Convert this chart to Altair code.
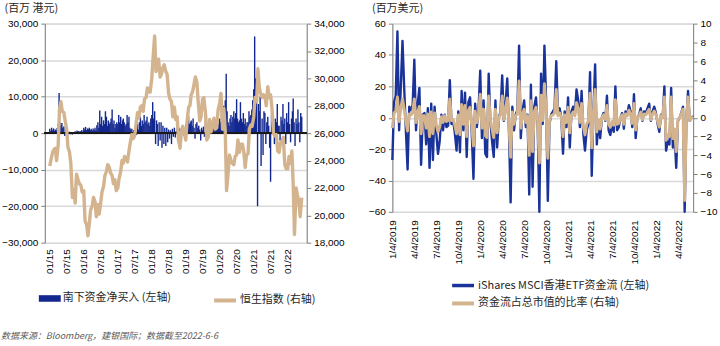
import altair as alt
import pandas as pd

# ---------------- Left panel data (semi-monthly HSI, 3-per-month southbound flows) ----------------
hsi_2015 = [23600, 24100, 24600, 24800, 24900, 24000, 25100, 27700, 28300, 27600, 27500, 26900,
            26300, 25000, 24600, 23800, 21300, 21900, 20900, 23000, 22600, 22300, 22200, 21700]
hsi_2016 = [21800, 19600, 19300, 18500, 19400, 20400, 20700, 21300, 21000, 19900, 20800, 20100,
            20900, 21700, 22100, 22900, 23200, 23700, 23500, 23100, 22900, 22300, 22600, 21800]
hsi_2017 = [22000, 22700, 23200, 24000, 23800, 24300, 24200, 23900, 24700, 25300, 25900, 25600,
            25800, 26600, 27500, 27100, 27900, 28000, 27600, 28500, 28600, 29300, 29000, 29000]
hsi_2018 = [30000, 31500, 33100, 30500, 30800, 31400, 30100, 30300, 30800, 31000, 30500, 30300,
            28900, 28500, 28300, 27200, 27900, 27000, 27200, 25500, 24900, 26100, 26500, 26100]
hsi_2019 = [25500, 26800, 27900, 28000, 28800, 29000, 29600, 30100, 29700, 28300, 26900, 27200,
            28500, 28600, 27500, 25500, 25700, 27000, 26100, 26600, 27100, 26300, 26400, 27700]
hsi_2020 = [28200, 28900, 26300, 27800, 26100, 21800, 23100, 24400, 24000, 23800, 23700, 24300,
            24400, 25500, 24600, 25200, 25200, 24700, 23500, 24400, 24500, 26300, 26600, 26500]
hsi_2021 = [27200, 28600, 28300, 30700, 29400, 28900, 28600, 28800, 28700, 28000, 29400, 28600,
            28800, 27900, 26000, 25800, 25900, 24700, 24600, 25300, 25400, 25700, 23700, 23400]
hsi_2022 = [23400, 24300, 23800, 24700, 22300, 18600, 22000, 21500, 21000, 19900, 21300]

south_2015 = [1200, 500, 1500, 800, 1300, 600, 1000, 700, 1400, 2500, 11000, 3000,
              2000, 2800, 1500, 1800, -800, 1200, 600, -500, 300, 400, -300, 200,
              -400, 300, -200, 500, 300, 700, 600, 400, 500, 500, 900, 400]
south_2016 = [1500, 1000, 1700, 800, 1300, 1100, 1500, 900, 1200, 700, 1300, 900,
              1500, 800, 2200, 3000, 1500, 6200, 2500, 4500, 2000, 3500, 2500, 6000,
              4500, 2000, 3500, 2500, 3000, 4000, 6500, 2500, 3500, 1500, 2500, 3000]
south_2017 = [2500, 5000, 3000, 4500, 2500, 3500, 4000, 3000, 2000, 2500, 5000, 3000,
              4500, 1500, 1000, 1200, -800, 900, 600, 1500, -500, 2500, 1000, 3000,
              4500, 2000, 3500, 2500, 5000, 3000, 3500, 4500, 2500, 3000, 2000, 4000]
south_2018 = [5000, 8500, 4000, 6000, -3000, 3500, 2500, -3500, 3000, -2000, 3000, -4000,
              2000, -3000, 1500, -3500, 1500, -2500, 1000, -1500, 800, -3000, 1200, -1000,
              1500, -1200, 600, 2500, -1800, 1500, 800, 1200, -500, 1000, -700, 1500]
south_2019 = [2500, 3500, 2000, 4700, 2500, 3000, 3500, 2000, 4000, 1500, -1500, 2500,
              3000, 1500, 2000, 1000, -2000, 1500, 800, 1800, -1000, 3500, 5000, 2500,
              2000, 1000, 2500, 1000, 2500, 1500, 3000, 2000, 1500, 1500, 3500, 2500]
south_2020 = [4000, 3000, 6000, 5000, 7500, 4000, 9000, 16300, 6000, 3000, 2000, 4000,
              5000, 3000, 4500, 6000, 4000, 5500, 9300, 4000, 3000, 3500, 8500, 4000,
              3000, 5500, 2500, 4000, 2000, 3000, 3000, 6000, 4500, 5000, 6500, 9000]
south_2021 = [12000, 26500, 15000, 9000, -20000, 8000, 6000, 10000, -9000, 4000, -6000, 6000,
              5500, -3000, 3000, 4500, 2000, -4000, -13300, 5000, 3000, 2500, -3000, 4000,
              3000, 8000, 2000, 2000, -2000, 4500, 3500, 8000, 2500, 4000, -3000, 5500]
south_2022 = [3000, 8500, 2500, -2500, 4000, 6000, 9500, 3000, -3500, 4000, 2500, 6500,
              3000, -2500, 5500, 4500]

# ---------------- Right panel data (weekly, from 2019-01-04) ----------------
etf_flow = [-27, 10, 14, 55, -8, 20, 49, 19, -8, -33,
            7, 5, 8, 37, -8, 9, 19, -30, 2, 3,
            -17, 6, -32, 9, -27, 7, -10, -23, -15, 2,
            -8, 2, -6, -5, 24, -4, -2, -10, -21, 4,
            -22, 17, -8, 16, -25, 10, 13, -10, -39, 9,
            -6, 5, 30, -13, 11, -23, -25, 28, -2, -15,
            -25, 11, -19, 0, 4, 27, -2, 9, 25, -8,
            -54, 7, -8, 2, 5, 46, -13, 4, 11, -6,
            2, -49, 21, -44, 7, 13, -4, -60, 28, -4,
            46, 11, -53, -4, 2, 4, 6, 36, 2, 6,
            0, -23, 4, -6, 13, -19, 4, 7, 2, 18,
            11, -6, 17, -10, -21, -8, -4, 29, -37, 4,
            34, -17, -2, -13, 0, 3, -2, 14, -8, -11,
            -4, -9, 20, -8, -6, 0, 3, -7, 4, 2,
            8, 4, -6, 15, -13, 0, 2, 6, -2, 4,
            3, 6, 9, -2, 4, 7, 3, -4, -9, 2,
            0, 20, -21, -15, -17, 19, -19, -10, -32, -2,
            0, 3, 7, -60, -2, 17, -2, 0, 1]
etf_ratio = [-1.1, 0.5, 0.7, 2.2, -0.4, 1.0, 2.0, 0.9, -0.4, -1.4,
             0.4, 0.3, 0.5, 2.0, -0.5, 0.6, 1.2, -1.7, 0.2, 0.2,
             -1.1, 0.4, -2.0, 0.6, -1.7, 0.5, -0.7, -1.5, -1.0, 0.1,
             -0.5, 0.2, -0.4, -0.3, 2.0, -0.3, -0.2, -0.8, -1.7, 0.3,
             -1.8, 1.4, -0.7, 1.3, -2.0, 0.8, 1.1, -0.8, -3.0, 0.7,
             -0.5, 0.4, 2.5, -1.1, 0.9, -1.9, -2.1, 2.3, -0.2, -1.2,
             -2.1, 0.9, -1.6, 0.0, 0.3, 2.3, -0.2, 0.8, 2.1, -0.7,
             -4.2, 0.6, -0.7, 0.2, 0.4, 3.9, -1.1, 0.3, 0.9, -0.5,
             0.2, -4.0, 1.8, -3.6, 0.6, 1.1, -0.3, -4.8, 2.4, -0.3,
             3.6, 0.9, -4.3, -0.3, 0.2, 0.3, 0.5, 3.0, 0.2, 0.5,
             0.0, -2.0, 0.3, -0.5, 1.1, -1.6, 0.3, 0.6, 0.2, 1.6,
             1.0, -0.5, 1.5, -0.9, -1.8, -0.7, -0.3, 2.6, -3.2, 0.4,
             3.0, -1.5, -0.2, -1.2, 0.0, 0.3, -0.2, 1.3, -0.7, -1.0,
             -0.4, -0.8, 1.9, -0.7, -0.6, 0.0, 0.3, -0.7, 0.4, 0.2,
             0.8, 0.4, -0.6, 1.5, -1.3, 0.0, 0.2, 0.6, -0.2, 0.4,
             0.3, 0.6, 0.9, -0.2, 0.4, 0.7, 0.3, -0.4, -1.0, 0.2,
             0.0, 2.2, -2.4, -1.8, -2.0, 2.2, -2.2, -1.2, -3.6, -0.2,
             0.0, 0.4, 0.9, -8.8, -0.3, 2.2, -0.3, 0.0, 0.1]

# labels / ticks
left_xticks = [(y, m) for y in range(2015, 2023) for m in (1, 7)][:-1]
right_xticks = [(y, m) for y in range(2019, 2023) for m in (1, 4, 7, 10)][:-2]
left_yticks = [-30000, -20000, -10000, 0, 10000, 20000, 30000]
hsi_ticks = [18000, 20000, 22000, 24000, 26000, 28000, 30000, 32000, 34000]
right_yticks = [-60, -40, -20, 0, 20, 40, 60]
ratio_ticks = [-10, -8, -6, -4, -2, 0, 2, 4, 6, 8, 10]

lbl_south = "南下资金净买入 (左轴)"
lbl_hsi = "恒生指数 (右轴)"
lbl_etf = "iShares MSCI香港ETF资金流 (左轴)"
lbl_ratio = "资金流占总市值的比率 (右轴)"
footnote = "数据来源：Bloomberg，建银国际；数据截至2022-6-6"

NAVY = "#13288f"
BLUE = "#1a3399"
TAN = "#d3b48e"
GRID = "#d9d9d9"
AX = "#7f7f7f"
LBL = "#404040"
FONT = "Lato"
CJK = "Noto Sans CJK SC"

# ---------------- build tables ----------------
hsi_vals = hsi_2015 + hsi_2016 + hsi_2017 + hsi_2018 + hsi_2019 + hsi_2020 + hsi_2021 + hsi_2022
hsi_df = pd.DataFrame({"date": pd.date_range("2015-01-01", "2022-06-01", freq="SMS"), "hsi": hsi_vals})
hsi_df["s"] = lbl_hsi

south_vals = south_2015 + south_2016 + south_2017 + south_2018 + south_2019 + south_2020 + south_2021 + south_2022
months = pd.date_range("2015-01-01", "2022-06-01", freq="MS")
south_dates = [m + pd.Timedelta(days=d) for m in months for d in (0, 10, 20)][:len(south_vals)]
south_df = pd.DataFrame({"date": south_dates, "flow": south_vals})
south_df["s"] = lbl_south
south_df["zero"] = 0

etf_df = pd.DataFrame({"date": pd.date_range("2019-01-04", periods=len(etf_flow), freq="7D"),
                       "flow": etf_flow, "ratio": etf_ratio})
etf_df["n1"] = lbl_etf
etf_df["n2"] = lbl_ratio


def dt(y, m, d=1):
    return alt.DateTime(year=y, month=m, date=d)


def leg(x, y, symbol, stroke_w=0):
    return alt.Legend(orient="none", legendX=x, legendY=y, title=None, symbolType=symbol,
                      symbolSize=484, symbolStrokeWidth=stroke_w, labelFont=CJK, labelFontSize=11,
                      labelColor="#262626", labelOffset=2, labelLimit=300)


# ---------------- left panel ----------------
xl = alt.X("date:T",
           scale=alt.Scale(domain=[dt(2015, 1, 1), dt(2022, 6, 1)]),
           axis=alt.Axis(values=[dt(y, m) for y, m in left_xticks], format="%m/%y", labelAngle=-90,
                         ticks=False, domain=False, grid=False, title=None, labelPadding=6))
left_axis = alt.Axis(values=left_yticks, format=",.0f", grid=True, gridColor=GRID, gridWidth=1.5,
                     domainColor=AX, tickColor=AX, tickSize=4, labelPadding=3,
                     title="(百万 港元)", titleAngle=0, titleX=-41, titleY=-15,
                     titleAlign="left", titleBaseline="middle", titleFont=CJK,
                     titleFontSize=11, titleFontWeight="normal", titleColor="#262626")
left_scale = alt.Scale(domain=[-30000, 30000], nice=False)

bars = alt.Chart(south_df).mark_bar(size=1.4).encode(
    x=xl,
    y=alt.Y("flow:Q", scale=left_scale, axis=left_axis),
    fill=alt.Fill("s:N", scale=alt.Scale(domain=[lbl_south], range=[NAVY]),
                  legend=leg(-6, 265, "M-1,-0.3L1,-0.3L1,0.3L-1,0.3Z")),
)
zero = alt.Chart(south_df).mark_rule(color="#1a1a1a", strokeWidth=1.2).encode(
    y=alt.Y("zero:Q", scale=left_scale, axis=left_axis))
hsi_line = alt.Chart(hsi_df).mark_line(strokeWidth=3.4, strokeJoin="round").encode(
    x=xl,
    y=alt.Y("hsi:Q", scale=alt.Scale(domain=[18000, 34000], nice=False),
            axis=alt.Axis(orient="right", values=hsi_ticks, format=",.0f", grid=False,
                          domainColor=AX, tickColor=AX, tickSize=4, labelPadding=3, title=None)),
    stroke=alt.Stroke("s:N", scale=alt.Scale(domain=[lbl_hsi], range=[TAN]),
                      legend=leg(168, 265, "stroke", 4)),
)
left = alt.layer(alt.layer(bars, zero), hsi_line).resolve_scale(
    y="independent", fill="independent", stroke="independent").properties(width=263, height=220)

# ---------------- right panel ----------------
xr = alt.X("date:T",
           scale=alt.Scale(domain=[dt(2019, 1, 4), dt(2022, 6, 3)]),
           axis=alt.Axis(values=[dt(y, m, 4) for y, m in right_xticks], format="%-m/%-d/%Y",
                         labelAngle=-90, ticks=False, domain=False, grid=False, title=None,
                         labelPadding=8))
flow_line = alt.Chart(etf_df).mark_line(strokeWidth=2.4, strokeJoin="round").encode(
    x=xr,
    y=alt.Y("flow:Q", scale=alt.Scale(domain=[-60, 60], nice=False),
            axis=alt.Axis(values=right_yticks, format="d", grid=True, gridColor=GRID, gridWidth=1.5,
                          domainColor=AX, tickColor=AX, tickSize=4, labelPadding=3,
                          title="(百万美元)", titleAngle=0, titleX=-21, titleY=-15,
                          titleAlign="left", titleBaseline="middle", titleFont=CJK,
                          titleFontSize=11, titleFontWeight="normal", titleColor="#262626")),
    color=alt.Color("n1:N", scale=alt.Scale(domain=[lbl_etf], range=[BLUE]),
                    legend=leg(58, 250, "stroke", 3.5)),
)
ratio_line = alt.Chart(etf_df).mark_line(strokeWidth=3, strokeJoin="round").encode(
    x=xr,
    y=alt.Y("ratio:Q", scale=alt.Scale(domain=[-10, 10], nice=False),
            axis=alt.Axis(orient="right", values=ratio_ticks, format="d", grid=False, domainColor=AX,
                          tickColor=AX, tickSize=4, labelPadding=3, title=None)),
    stroke=alt.Stroke("n2:N", scale=alt.Scale(domain=[lbl_ratio], range=[TAN]),
                      legend=leg(58, 268, "stroke", 4)),
)
right = alt.layer(flow_line, ratio_line).resolve_scale(
    y="independent", color="independent", stroke="independent").properties(width=302, height=189)

chart = alt.hconcat(left, right, spacing=22).properties(
    padding={"left": 1, "top": 1, "right": 2, "bottom": 2},
    title=alt.TitleParams(text=footnote, orient="bottom", anchor="start", font=CJK, fontSize=9,
                          fontStyle="italic", fontWeight="normal", color="#595959", offset=20),
).configure_view(stroke=None).configure_axis(
    labelFont=FONT, labelFontSize=11, labelColor=LBL
).configure(background="white")

chart.save("out.html", embed_options={"renderer": "svg", "actions": False})
